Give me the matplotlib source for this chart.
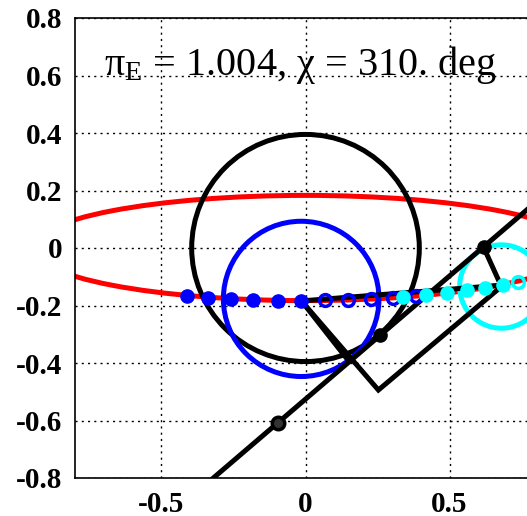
import matplotlib
matplotlib.use("Agg")
import matplotlib.pyplot as plt
from matplotlib.patches import Circle, Ellipse

# orbit ellipse (center, full width, full height)
orbit_center = (0.0, 0.0)
orbit_width = 1.90
orbit_height = 0.366

# circles: (x, y, radius)
black_circle = (0.0, 0.0, 0.395)
blue_circle = (-0.015, -0.177, 0.27)
cyan_circle = (0.68, -0.134, 0.145)

# positions along the track
blue_fill_x = [-0.413, -0.337, -0.260, -0.181, -0.097, -0.014]
blue_fill_y = [-0.167, -0.174, -0.177, -0.181, -0.184, -0.184]
blue_open_x = [0.069, 0.146, 0.226, 0.302, 0.382]
blue_open_y = [-0.181, -0.181, -0.177, -0.174, -0.167]
cyan_fill_x = [0.340, 0.417, 0.490, 0.559, 0.622, 0.684]
cyan_fill_y = [-0.170, -0.163, -0.157, -0.147, -0.139, -0.129]
cyan_open_x = [0.736]
cyan_open_y = [-0.118]

# black construction lines
track_x = [-0.014, 0.684]
track_y = [-0.184, -0.129]
diag_x = [-0.32, 0.80]
diag_y = [-0.80, 0.16]
diag_dot_x = [0.26, 0.618]
diag_dot_y = [-0.303, 0.003]
diag_open_x = [-0.094]
diag_open_y = [-0.609]
wedge_x = [-0.014, 0.149]
wedge_y = [-0.184, -0.392]
box_x = [-0.014, 0.253, 0.68, 0.618]
box_y = [-0.184, -0.494, -0.134, 0.003]

xticks = [-0.5, 0, 0.5]
xtick_labels = ["-0.5", "0", "0.5"]
yticks = [-0.8, -0.6, -0.4, -0.2, 0, 0.2, 0.4, 0.6, 0.8]
ytick_labels = ["-0.8", "-0.6", "-0.4", "-0.2", "0", "0.2", "0.4", "0.6", "0.8"]

title = r"$\mathregular{π_{E}}$ = 1.004, χ = 310. deg"

plt.rcParams["mathtext.fontset"] = "stix"
plt.rcParams["font.family"] = ["Liberation Serif", "DejaVu Serif"]

fig = plt.figure(figsize=(5.27, 5.16), dpi=100)
ax = fig.add_axes([75 / 527, 38 / 516, 461 / 527, 460 / 516])
ax.set_xlim(-0.8, 0.8)
ax.set_ylim(-0.8, 0.8)

lw = 3.6
ax.add_patch(Ellipse(orbit_center, orbit_width, orbit_height, fill=False,
                     edgecolor="red", linewidth=lw, zorder=2))
for (cx, cy, r), col, z in [(black_circle, "black", 3), (blue_circle, "blue", 4),
                            (cyan_circle, "cyan", 4)]:
    ax.add_patch(Circle((cx, cy), r, fill=False, edgecolor=col, linewidth=lw, zorder=z))

ax.plot(track_x, track_y, color="black", linewidth=lw, zorder=5)
ax.plot(diag_x, diag_y, color="black", linewidth=lw, zorder=5)
ax.plot(wedge_x, wedge_y, color="black", linewidth=lw, zorder=5)
ax.plot(box_x, box_y, color="black", linewidth=lw, zorder=5, solid_joinstyle="miter")

ax.plot(diag_dot_x, diag_dot_y, "o", color="black", markersize=9.5, zorder=6)
ax.plot(diag_open_x, diag_open_y, "o", mfc="0.2", mec="black", mew=2.5,
        markersize=9, zorder=6)
ax.plot(blue_fill_x, blue_fill_y, "o", color="blue", markersize=9.5, zorder=7)
ax.plot(blue_open_x, blue_open_y, "o", mfc="none", mec="blue", mew=2.5,
        markersize=8.5, zorder=7)
ax.plot(cyan_fill_x, cyan_fill_y, "o", color="cyan", markersize=9.5, zorder=8)
ax.plot(cyan_open_x, cyan_open_y, "o", mfc="none", mec="cyan", mew=2.5,
        markersize=8.5, zorder=8)

ax.text(-0.70, 0.60, title, fontsize=29, ha="left", va="baseline", zorder=9)

ax.set_xticks(xticks)
ax.set_xticklabels(xtick_labels)
ax.set_yticks(yticks)
ax.set_yticklabels(ytick_labels)
ax.tick_params(length=0, pad=9, labelsize=21)
for lab in ax.get_xticklabels() + ax.get_yticklabels():
    lab.set_fontweight("bold")
ax.grid(True, color="black", linestyle=(0, (1.5, 3)), linewidth=1.0)
ax.set_axisbelow(True)
for sp in ax.spines.values():
    sp.set_linewidth(1.2)

fig.savefig("out.png", dpi=100)
